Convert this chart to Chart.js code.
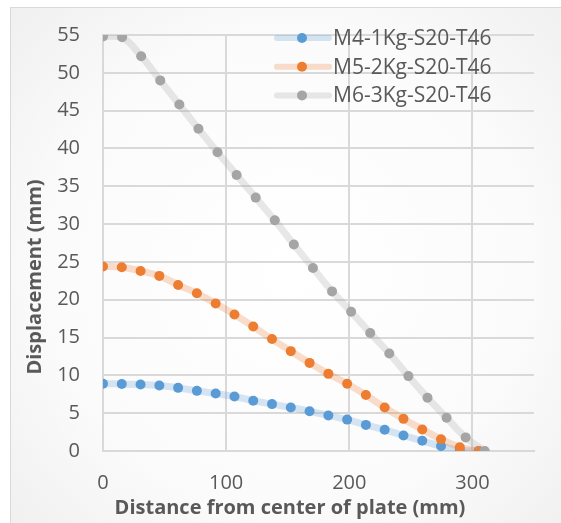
<!DOCTYPE html>
<html>
<head>
<meta charset="utf-8">
<script src="https://cdn.jsdelivr.net/npm/chart.js@4.4.1/dist/chart.umd.min.js"></script>
<style>
  html, body { margin: 0; padding: 0; background: #ffffff; }
  #wrap { width: 561px; height: 523px; }
</style>
</head>
<body>
<div id="wrap"><canvas id="plateChart" width="561" height="523"></canvas></div>
<script>
// distance from the plate centre (mm)
const distanceM4M5 = [0, 15.25, 30.5, 45.75, 61, 76.25, 91.5, 106.75, 122, 137.25, 152.5,
    167.75, 183, 198.25, 213.5, 228.75, 244, 259.25, 274.5, 289.75, 305];
const distanceM6 = [0, 15.5, 31, 46.5, 62, 77.5, 93, 108.5, 124, 139.5, 155,
    170.5, 186, 201.5, 217, 232.5, 248, 263.5, 279, 294.5, 310];

// displacement (mm)
const dispM4 = [8.9, 8.85, 8.8, 8.65, 8.35, 7.95, 7.6, 7.2, 6.65, 6.2, 5.75,
    5.25, 4.7, 4.15, 3.45, 2.8, 2.05, 1.35, 0.65, 0.1, 0];
const dispM5 = [24.4, 24.3, 23.8, 23.15, 21.95, 20.85, 19.5, 18.05, 16.45, 14.8, 13.2,
    11.65, 10.2, 8.9, 7.4, 5.75, 4.25, 2.85, 1.55, 0.5, 0];
const dispM6 = [54.8, 54.7, 52.2, 49.0, 45.8, 42.6, 39.5, 36.5, 33.5, 30.5, 27.3,
    24.2, 21.1, 18.4, 15.6, 12.9, 9.9, 7.05, 4.4, 1.8, 0];

const seriesNames = ['M4-1Kg-S20-T46', 'M5-2Kg-S20-T46', 'M6-3Kg-S20-T46'];
const xTicks = [0, 100, 200, 300];
const xTitle = 'Distance from center of plate (mm)';
const yTitle = 'Displacement (mm)';

const textColor = '#595959';
const gridColor = '#d9d9d9';
const fontFamily = "'Open Sans', sans-serif";

function toPoints(xs, ys) {
    return xs.map((x, i) => ({ x: x, y: ys[i] }));
}

// panel background with soft radial shading and a thin frame
const panelBackground = {
    id: 'panelBackground',
    beforeDraw(chart) {
        const ctx = chart.ctx;
        ctx.save();
        ctx.fillStyle = '#ffffff';
        ctx.fillRect(0, 0, chart.width, chart.height);
        const g = ctx.createRadialGradient(290, 270, 0, 290, 270, 430);
        g.addColorStop(0, '#ffffff');
        g.addColorStop(0.55, '#fbfbfb');
        g.addColorStop(1, '#ececec');
        ctx.fillStyle = g;
        ctx.fillRect(10, 7, chart.width, chart.height);
        ctx.strokeStyle = '#d9d9d9';
        ctx.lineWidth = 1;
        ctx.beginPath();
        ctx.moveTo(10.5, chart.height);
        ctx.lineTo(10.5, 7.5);
        ctx.lineTo(chart.width, 7.5);
        ctx.stroke();
        ctx.restore();
    }
};

// axis titles are centred on the whole panel, not on the plot area
const axisTitles = {
    id: 'axisTitles',
    afterDraw(chart) {
        const ctx = chart.ctx;
        ctx.save();
        ctx.fillStyle = textColor;
        ctx.font = 'bold 20px ' + fontFamily;
        ctx.textAlign = 'center';
        ctx.textBaseline = 'middle';
        ctx.fillText(xTitle, 290, 508);
        ctx.translate(35, 277);
        ctx.rotate(-Math.PI / 2);
        ctx.fillText(yTitle, 0, 0);
        ctx.restore();
    }
};

// legend inside the upper right of the plot
const insideLegend = {
    id: 'insideLegend',
    afterDatasetsDraw(chart) {
        const ctx = chart.ctx;
        ctx.save();
        chart.data.datasets.forEach((ds, i) => {
            const y = 38 + i * 28.7;
            ctx.strokeStyle = ds.borderColor;
            ctx.lineWidth = 6;
            ctx.lineCap = 'round';
            ctx.beginPath();
            ctx.moveTo(277, y);
            ctx.lineTo(329, y);
            ctx.stroke();
            ctx.fillStyle = ds.pointBackgroundColor;
            ctx.beginPath();
            ctx.arc(302, y, 5, 0, Math.PI * 2);
            ctx.fill();
            ctx.fillStyle = textColor;
            ctx.font = '21px ' + fontFamily;
            ctx.textAlign = 'left';
            ctx.textBaseline = 'middle';
            ctx.fillText(ds.label, 333, y + 1);
        });
        ctx.restore();
    }
};

function series(label, xs, ys, line, dot, order) {
    return {
        label: label,
        data: toPoints(xs, ys),
        borderColor: line,
        borderWidth: 7,
        tension: 0.4,
        pointRadius: 5,
        pointHoverRadius: 5,
        pointBorderWidth: 0,
        pointBackgroundColor: dot,
        pointBorderColor: dot,
        order: order
    };
}

new Chart(document.getElementById('plateChart'), {
    type: 'line',
    data: {
        datasets: [
            series(seriesNames[0], distanceM4M5, dispM4, 'rgba(91, 155, 213, 0.25)', '#5b9bd5', 3),
            series(seriesNames[1], distanceM4M5, dispM5, 'rgba(237, 125, 49, 0.25)', '#ed7d31', 2),
            series(seriesNames[2], distanceM6, dispM6, 'rgba(165, 165, 165, 0.25)', '#a5a5a5', 1)
        ]
    },
    options: {
        responsive: false,
        animation: false,
        layout: { padding: { left: 10, top: 31, right: 27, bottom: 0 } },
        plugins: {
            legend: { display: false },
            tooltip: { enabled: false }
        },
        scales: {
            x: {
                type: 'linear',
                min: 0,
                max: 350,
                afterBuildTicks: scale => { scale.ticks = xTicks.map(v => ({ value: v })); },
                afterFit: scale => { scale.height = 72; },
                grid: { color: gridColor, lineWidth: 2, drawTicks: false },
                border: { color: gridColor, width: 2 },
                ticks: {
                    color: textColor,
                    padding: 20,
                    maxRotation: 0,
                    font: { family: fontFamily, size: 20 }
                }
            },
            y: {
                min: 0,
                max: 55,
                afterFit: scale => { scale.width = 93; },
                grid: { color: gridColor, lineWidth: 2, drawTicks: false },
                border: { color: gridColor, width: 2 },
                ticks: {
                    stepSize: 5,
                    color: textColor,
                    padding: 23,
                    font: { family: fontFamily, size: 20 }
                }
            }
        }
    },
    plugins: [panelBackground, axisTitles, insideLegend]
});
</script>
</body>
</html>
